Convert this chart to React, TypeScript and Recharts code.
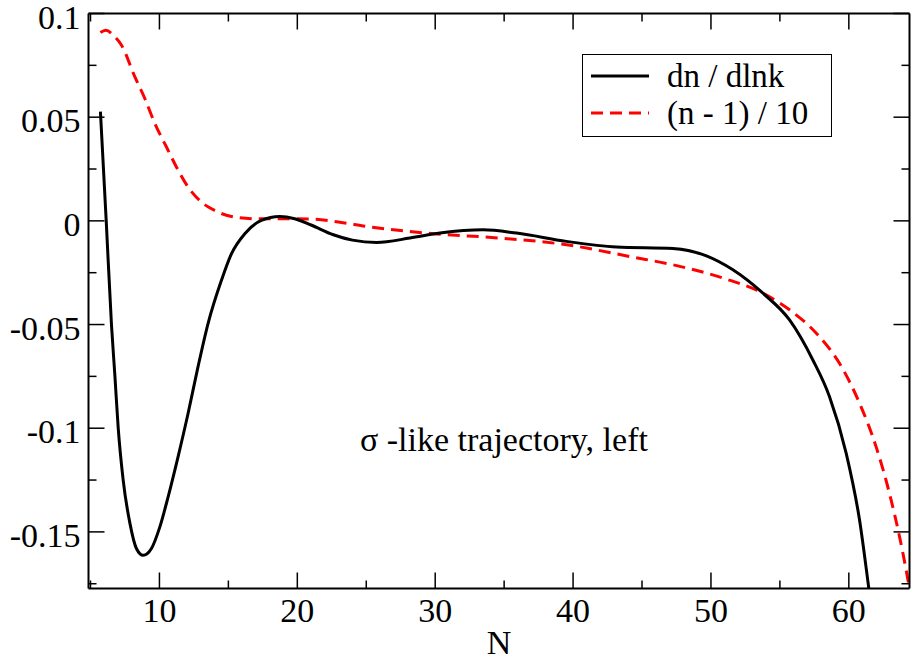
import React from "react";
import { LineChart, Line, XAxis, YAxis, ReferenceDot } from "recharts";

const FONT = "'Liberation Serif', 'Times New Roman', Times, serif";

const X_DOMAIN: [number, number] = [4.855, 64.4];
const Y_DOMAIN: [number, number] = [-0.1773, 0.1];
const X_MAJOR = [10, 20, 30, 40, 50, 60];
const X_MINOR = [5, 15, 25, 35, 45, 55];
const Y_MAJOR = [-0.15, -0.1, -0.05, 0, 0.05, 0.1];
const Y_MINOR = [-0.175, -0.125, -0.075, -0.025, 0.025, 0.075];

// dn / dlnk (solid black)
const dnN = [
  5.72, 6.14, 6.52, 6.77, 7.01, 7.37, 7.86, 8.33, 8.82, 9.42, 10.03, 10.63,
  11.35, 12.08, 12.8, 13.53, 14.49, 15.22, 16.19, 17.39, 18.72, 19.81, 21.0,
  22.61, 24.0, 25.75, 28.17, 30.34, 33.48, 35.9, 39.52, 43.14, 47.25, 49.67,
  51.59, 53.77, 55.7, 57.39, 58.6, 59.81, 60.78, 61.45, 61.7,
];
const dnV = [
  0.0527, 0.0, -0.05, -0.0748, -0.1, -0.125, -0.1459, -0.158, -0.1613, -0.158,
  -0.1476, -0.1331, -0.1138, -0.0928, -0.0703, -0.0494, -0.0288, -0.0159,
  -0.0062, 0.0002, 0.0021, 0.001, -0.002, -0.0067, -0.0093, -0.0104, -0.0083,
  -0.0059, -0.0043, -0.0059, -0.0099, -0.0126, -0.0133, -0.0169, -0.0236,
  -0.0349, -0.0478, -0.0671, -0.0848, -0.1121, -0.1444, -0.1773, -0.19,
];

// (n - 1) / 10 (dashed red)
const nm1N = [
  5.72, 6.1, 6.77, 7.25, 8.22, 8.94, 9.67, 10.51, 11.23, 12.08, 13.04, 14.01,
  15.22, 16.91, 18.84, 21.26, 23.19, 25.03, 29.86, 34.69, 39.52, 44.35, 47.25,
  50.87, 53.77, 55.7, 57.64, 59.32, 60.78, 61.98, 62.95, 63.68, 64.16, 64.6,
];
const nm1V = [
  0.0908, 0.0919, 0.0887, 0.0847, 0.0694, 0.059, 0.0469, 0.0356, 0.026, 0.0163,
  0.0091, 0.005, 0.0021, 0.001, 0.001, 0.0008, -0.0008, -0.0027, -0.0062,
  -0.0083, -0.0115, -0.0175, -0.0212, -0.0276, -0.0349, -0.0429, -0.0542,
  -0.0687, -0.088, -0.109, -0.1315, -0.1524, -0.1685, -0.185,
];

const dnData = dnN.map((n, i) => ({ n, v: dnV[i] }));
const nm1Data = nm1N.map((n, i) => ({ n, v: nm1V[i] }));

const FS = 34;
const tickText = { fontFamily: FONT, fontSize: FS, fill: "#000" };
const frame = { stroke: "#000", strokeWidth: 2 };
const tickStroke = { stroke: "#000", strokeWidth: 1.5 };

// y tick labels sit a little below their tick in the reference
const YTick = (props: any) => {
  const { x, y, payload } = props;
  return (
    <text
      x={x}
      y={y}
      dy={FS * 0.355 + 3}
      textAnchor="end"
      fontFamily={FONT}
      fontSize={FS}
      fill="#000"
    >
      {String(payload.value)}
    </text>
  );
};

// no label, only the tick line
const NoLabel = () => <g />;

// extra axes that only draw inward tick marks (and the top/right frame)
const tickAxisX = (id: string, side: "top" | "bottom", ticks: number[], size: number, line: boolean) => (
  <XAxis
    key={id}
    xAxisId={id}
    orientation={side}
    type="number"
    dataKey="n"
    domain={X_DOMAIN}
    allowDataOverflow
    ticks={ticks}
    interval={0}
    mirror
    height={0.01}
    tickSize={size}
    tick={NoLabel}
    axisLine={line ? frame : false}
    tickLine={tickStroke}
  />
);

const tickAxisY = (id: string, side: "left" | "right", ticks: number[], size: number, line: boolean) => (
  <YAxis
    key={id}
    yAxisId={id}
    orientation={side}
    type="number"
    domain={Y_DOMAIN}
    allowDataOverflow
    ticks={ticks}
    interval={0}
    mirror
    width={0.01}
    tickSize={size}
    tick={NoLabel}
    axisLine={line ? frame : false}
    tickLine={tickStroke}
  />
);

const LegendBox = () => (
  <div
    style={{
      position: "absolute",
      left: 582,
      top: 54,
      width: 250,
      height: 83,
      boxSizing: "border-box",
      border: "1.5px solid #000",
      background: "#fff",
      paddingTop: 2.5,
      paddingLeft: 8,
      fontFamily: FONT,
      fontSize: 33,
      color: "#000",
    }}
  >
    {[
      { name: "dn / dlnk", color: "#000", dash: undefined },
      { name: "(n - 1) / 10", color: "#ff0000", dash: "12 7" },
    ].map((item) => (
      <div
        key={item.name}
        style={{
          display: "flex",
          alignItems: "center",
          height: 37,
          lineHeight: "37px",
          whiteSpace: "nowrap",
        }}
      >
        <svg width={58} height={6} style={{ display: "block" }}>
          <line
            x1={0}
            y1={3}
            x2={58}
            y2={3}
            stroke={item.color}
            strokeWidth={3}
            strokeDasharray={item.dash}
          />
        </svg>
        <span style={{ marginLeft: 18 }}>{item.name}</span>
      </div>
    ))}
  </div>
);

export default function App() {
  return (
    <div
      style={{
        position: "absolute",
        left: 0,
        top: 0,
        width: 913,
        height: 661,
        background: "#fff",
      }}
    >
      <LineChart
        width={913}
        height={661}
        margin={{ top: 13.5, right: 3.5, left: 0, bottom: 0 }}
      >
        <XAxis
          type="number"
          dataKey="n"
          domain={X_DOMAIN}
          allowDataOverflow
          ticks={X_MAJOR}
          interval={0}
          height={72.5}
          tickSize={0}
          tickMargin={9}
          tick={tickText}
          axisLine={frame}
          tickLine={false}
          label={{
            value: "N",
            position: "insideBottom",
            offset: 7,
            style: { fontFamily: FONT, fontSize: FS, fill: "#000" },
          }}
        />
        {tickAxisX("bmaj", "bottom", X_MAJOR, 16, false)}
        {tickAxisX("bmin", "bottom", X_MINOR, 8, false)}
        {tickAxisX("tmaj", "top", X_MAJOR, 16, true)}
        {tickAxisX("tmin", "top", X_MINOR, 8, false)}
        <YAxis
          type="number"
          domain={Y_DOMAIN}
          allowDataOverflow
          ticks={Y_MAJOR}
          interval={0}
          width={88.5}
          tickSize={0}
          tickMargin={8}
          tick={<YTick />}
          axisLine={frame}
          tickLine={false}
        />
        {tickAxisY("lmaj", "left", Y_MAJOR, 16, false)}
        {tickAxisY("lmin", "left", Y_MINOR, 8, false)}
        {tickAxisY("rmaj", "right", Y_MAJOR, 16, true)}
        {tickAxisY("rmin", "right", Y_MINOR, 8, false)}
        <Line
          data={nm1Data}
          dataKey="v"
          type="monotone"
          stroke="#ff0000"
          strokeWidth={3}
          strokeDasharray="12 7"
          dot={false}
          isAnimationActive={false}
        />
        <Line
          data={dnData}
          dataKey="v"
          type="monotone"
          stroke="#000"
          strokeWidth={3}
          dot={false}
          isAnimationActive={false}
        />
        <ReferenceDot
          x={24.54}
          y={-0.1052}
          r={0}
          fill="none"
          stroke="none"
          ifOverflow="visible"
          label={{
            value: "σ -like trajectory, left",
            position: "right",
            offset: 0,
            style: { fontFamily: FONT, fontSize: FS, fill: "#000" },
          }}
        />
      </LineChart>
      <LegendBox />
    </div>
  );
}
